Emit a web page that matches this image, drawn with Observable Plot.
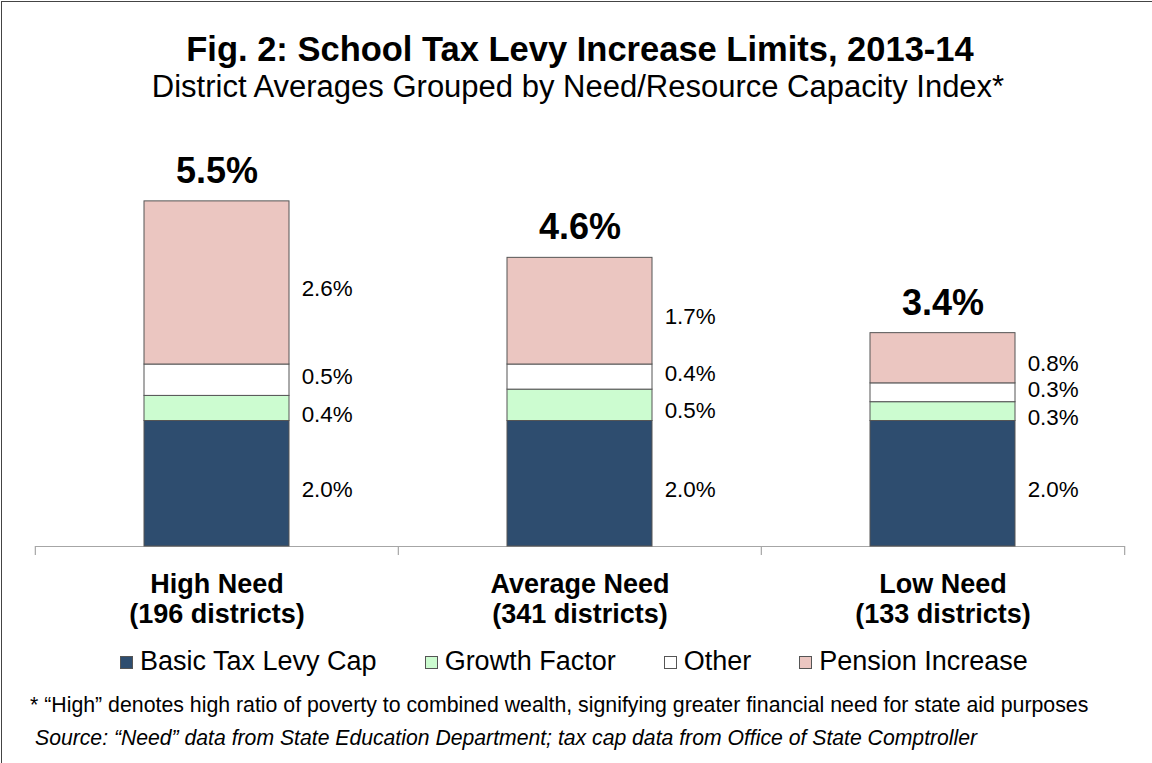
<!DOCTYPE html>
<html>
<head>
<meta charset="utf-8">
<script src="https://cdn.jsdelivr.net/npm/d3@7"></script>
<script src="https://cdn.jsdelivr.net/npm/@observablehq/plot@0.6"></script>
<style>
  html, body { margin: 0; padding: 0; background: #fff; }
  body { font-family: "Liberation Sans", Arial, Helvetica, sans-serif; color: #000; }
  #page { position: relative; width: 1152px; height: 763px; overflow: hidden; }
  #border { position: absolute; left: 1px; top: 1px; width: 1300px; height: 900px; border: 1.5px solid #444; box-sizing: border-box; }
  .t { position: absolute; white-space: nowrap; line-height: 1; }
  #title { left: 0; width: 1160px; text-align: center; top: 32px; font-size: 34.5px; font-weight: bold; }
  #subtitle { left: 0; width: 1156px; text-align: center; top: 70.5px; font-size: 31px; }
  #chart { position: absolute; left: 0; top: 110px; }
  #legend { position: absolute; left: 120px; top: 646px; height: 30px; display: flex; align-items: center; font-size: 27px; line-height: 30px; }
  .item { display: flex; align-items: center; margin-right: 48px; }
  .sw { width: 13px; height: 13px; box-sizing: border-box; border: 1px solid #555; margin-right: 7px; margin-top: 3px; }
  #note { left: 30px; top: 694.5px; font-size: 21.3px; }
  #source { left: 35px; top: 727px; font-size: 21.2px; font-style: italic; }
</style>
</head>
<body>
<div id="page">
  <div id="border"></div>
  <div class="t" id="title"></div>
  <div class="t" id="subtitle"></div>
  <div id="chart"></div>
  <div id="legend"></div>
  <div class="t" id="note"></div>
  <div class="t" id="source"></div>
</div>
<script>
// ---- Data ----
const titleText = "Fig. 2: School Tax Levy Increase Limits, 2013-14";
const subtitleText = "District Averages Grouped by Need/Resource Capacity Index*";
const categories = ["High Need", "Average Need", "Low Need"];
const districts = ["(196 districts)", "(341 districts)", "(133 districts)"];
const series = ["Basic Tax Levy Cap", "Growth Factor", "Other", "Pension Increase"];
const basicCap = [2.0, 2.0, 2.0];
const growthFactor = [0.4, 0.5, 0.3];
const otherPart = [0.5, 0.4, 0.3];
const pensionIncrease = [2.6, 1.7, 0.8];
const totals = [5.5, 4.6, 3.4];
const colors = ["#2E4D6F", "#CCFCD0", "#FFFFFF", "#EBC6C1"];
const noteText = "* \u201CHigh\u201D denotes high ratio of poverty to combined wealth, signifying greater financial need for state aid purposes";
const sourceText = "Source: \u201CNeed\u201D data from State Education Department; tax cap data from Office of State Comptroller";

// ---- Build table ----
const seriesValues = [basicCap, growthFactor, otherPart, pensionIncrease];
const data = series.flatMap((s, si) =>
  categories.map((c, ci) => ({category: c, series: s, value: seriesValues[si][ci]}))
);
const totalRows = categories.map((c, i) => ({category: c, total: totals[i], label: districts[i]}));

document.getElementById("title").textContent = titleText;
document.getElementById("subtitle").textContent = subtitleText;
document.getElementById("note").textContent = noteText;
document.getElementById("source").textContent = sourceText;

// ---- Layout constants ----
const W = 1152, ML = 35, MR = 27, PI = 0.6, PO = 0.3;
const step = (W - ML - MR) / (categories.length - PI + 2 * PO);
const bw = step * (1 - PI);
const grey = "#a6a6a6";
// vertical nudge of each series' value label (label placement style)
const labelNudge = [6, 6, -3, 6];

const labelMarks = series.map((s, si) =>
  Plot.text(data, Plot.stackY({
    x: "category", y: "value",
    text: d => d.series === s ? d.value.toFixed(1) + "%" : null,
    dx: bw / 2 + 12, dy: labelNudge[si], textAnchor: "start", fontSize: 22.4, fill: "#000"
  }))
);

const chart = Plot.plot({
  width: W,
  height: 520,
  marginLeft: ML,
  marginRight: MR,
  marginTop: 59.5,
  marginBottom: 84,
  x: {type: "band", domain: categories, paddingInner: PI, paddingOuter: PO, axis: null},
  y: {domain: [0, 6], axis: null},
  color: {domain: series, range: colors},
  style: {fontFamily: "'Liberation Sans', Arial, Helvetica, sans-serif", background: "transparent", overflow: "visible", color: "#000"},
  marks: [
    Plot.ruleY([0], {stroke: grey, strokeWidth: 1.2}),
    Plot.ruleX(categories, {x: d => d, y1: 0, y2: 0, dx: -step / 2, insetBottom: -9, stroke: grey, strokeWidth: 1.2}),
    Plot.ruleX([categories[categories.length - 1]], {x: d => d, y1: 0, y2: 0, dx: step / 2, insetBottom: -9, stroke: grey, strokeWidth: 1.2}),
    Plot.barY(data, Plot.stackY({x: "category", y: "value", fill: "series", stroke: "#555", strokeWidth: 1})),
    ...labelMarks,
    Plot.text(totalRows, {
      x: "category", y: "total",
      text: d => d.total.toFixed(1) + "%",
      dy: -30, fontSize: 36, fontWeight: "bold", fill: "#000"
    }),
    Plot.text(totalRows, {
      x: "category", frameAnchor: "bottom", lineAnchor: "middle", dy: 52,
      text: d => d.category + "\n" + d.label,
      fontSize: 27, fontWeight: "bold", lineHeight: 1.11, fill: "#000"
    })
  ]
});
document.getElementById("chart").appendChild(chart);

// ---- Legend ----
const legend = document.getElementById("legend");
series.forEach((s, i) => {
  const item = document.createElement("div");
  item.className = "item";
  const sw = document.createElement("div");
  sw.className = "sw";
  sw.style.background = colors[i];
  const lab = document.createElement("span");
  lab.textContent = s;
  item.appendChild(sw);
  item.appendChild(lab);
  legend.appendChild(item);
});
</script>
</body>
</html>
